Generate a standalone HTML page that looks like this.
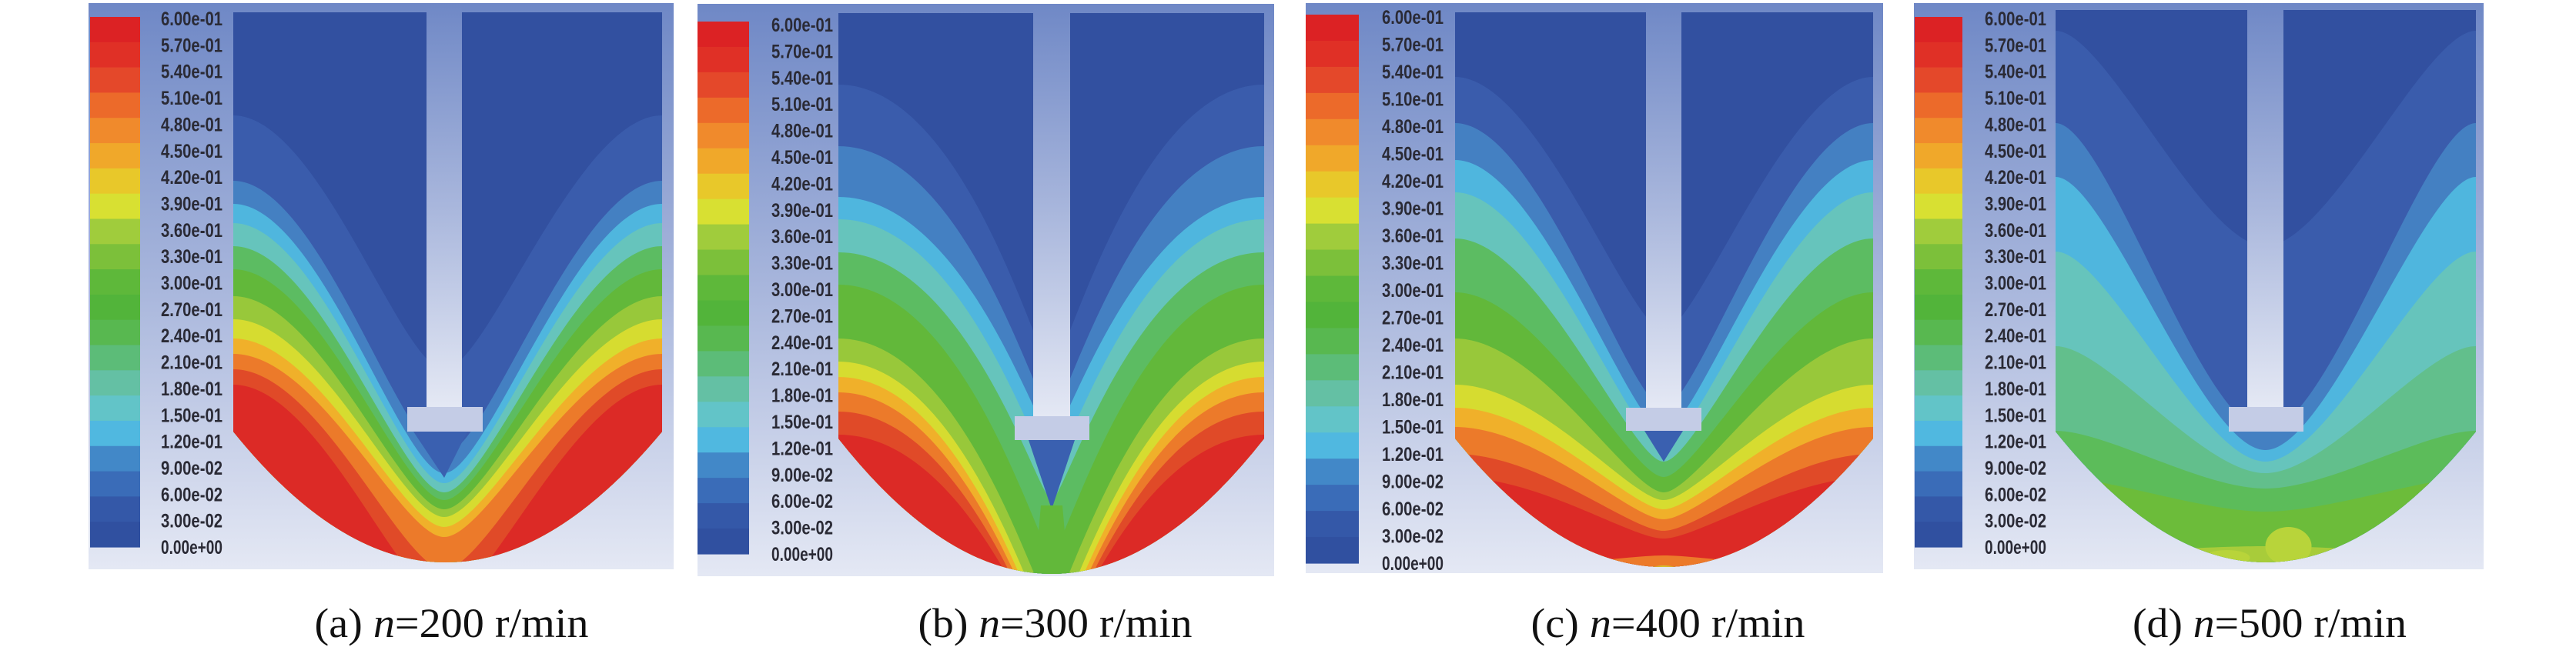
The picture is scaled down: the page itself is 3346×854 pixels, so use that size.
<!DOCTYPE html>
<html><head><meta charset="utf-8"><style>
html,body{margin:0;padding:0;background:#fff;width:3346px;height:854px;overflow:hidden;}
svg{display:block}
</style></head><body>
<svg id="s" width="3346" height="854" xmlns="http://www.w3.org/2000/svg">
<defs>
<linearGradient id="bg" x1="0" y1="0" x2="0" y2="1">
<stop offset="0" stop-color="#6f88c6"/><stop offset="0.5" stop-color="#a8b6dc"/><stop offset="1" stop-color="#e4e8f4"/>
</linearGradient>
</defs>
</svg>
<script>
var NS="http://www.w3.org/2000/svg",S=document.getElementById('s');
function el(t,a,p){var e=document.createElementNS(NS,t);for(var k in a)e.setAttribute(k,a[k]);(p||S).appendChild(e);return e;}
var cb=['#dc2224','#e03026','#e4482a','#ec6a2a','#f08a2c','#f0a82a','#e8c82a','#d8e032','#a0cc3c','#7cc03a','#5eb83a','#52b43a','#58b850','#5cbc78','#64c0a4','#62c4c8','#50b8e0','#4288c8','#3a6cb8','#3458a8','#3050a0'];
var labs=['6.00e-01','5.70e-01','5.40e-01','5.10e-01','4.80e-01','4.50e-01','4.20e-01','3.90e-01','3.60e-01','3.30e-01','3.00e-01','2.70e-01','2.40e-01','2.10e-01','1.80e-01','1.50e-01','1.20e-01','9.00e-02','6.00e-02','3.00e-02','0.00e+00'];
var P=[
{L:115,R:875,bt:4,bb:740,c0:117,c1:182,ct:22,cbm:711,lx:209,lt:24,lb:711,x0:303,x1:860,top:16,s0:554,s1:600,i0:529,i1:627,iy0:529,iy1:561,w:561,b:731,k:0.2,m:0.1,cap:'(a) ',num:'=200 r/min',
 bands:[['#3a5cac',150,480],['#4480c2',235,590],['#4fb6de',265,615],['#66c4bc',290,628],['#5cbc62',320,640],['#62b83a',350,650],['#98c83a',385,662],['#d6dc30',415,672],['#f0b02a',440,685],['#ec7a2a',460,698],['#e04a28',480,740],['#dc2a26',500,780]]},
{L:906,R:1655,bt:5,bb:749,c0:906,c1:973,ct:28,cbm:720,lx:1002,lt:32,lb:720,x0:1089,x1:1642,top:17,s0:1342,s1:1390,i0:1318,i1:1415,iy0:541,iy1:572,w:570,b:746,k:0.3,m:0.03,cap:'(b) ',num:'=300 r/min',
 bands:[['#3a5cac',110,480],['#4480c2',190,540],['#4fb6de',256,570],['#66c4bc',285,610],['#5cbc62',328,650],['#62b83a',370,720],['#98c83a',440,790],['#d6dc30',470,820],['#f0b02a',490,835],['#ec7a2a',510,845],['#e04a28',535,850],['#dc2a26',565,850]]},
{L:1696,R:2446,bt:4,bb:745,c0:1696,c1:1765,ct:19,cbm:732,lx:1795,lt:22,lb:732,x0:1890,x1:2433,top:16,s0:2138,s1:2184,i0:2112,i1:2210,iy0:530,iy1:560,w:570,b:737,k:0.2,m:0.08,cap:'(c) ',num:'=400 r/min',
 bands:[['#3a5cac',100,430],['#4480c2',160,530],['#4fb6de',208,560],['#66c4bc',250,580],['#5cbc62',310,600],['#62b83a',380,620],['#98c83a',440,640],['#d6dc30',500,650],['#f0b02a',530,662],['#ec7a2a',555,675],['#e04a28',590,690],['#dc2a26',620,700],['#ec7a2a',740,722],['#d6c030',800,735]]},
{L:2486,R:3226,bt:4,bb:740,c0:2487,c1:2549,ct:22,cbm:711,lx:2578,lt:24,lb:711,x0:2670,x1:3216,top:13,s0:2919,s1:2966,i0:2895,i1:2992,iy0:529,iy1:561,w:561,b:731,k:0.12,m:0.15,cap:'(d) ',num:'=500 r/min',
 bands:[['#3a5cac',40,320],['#4480c2',160,560],['#4fb6de',230,585],['#66c4bc',327,600],['#62bf8c',450,615],['#5cbc5a',560,635],['#6cbc3a',620,665],['#a8cc3a',720,710]]}
];
P.forEach(function(p,i){
 el('rect',{x:p.L,y:p.bt,width:p.R-p.L,height:p.bb-p.bt,fill:'url(#bg)'});
 var h=(p.cbm-p.ct)/21;
 cb.forEach(function(c,j){el('rect',{x:p.c0,y:p.ct+j*h,width:p.c1-p.c0,height:h+0.6,fill:c});});
 labs.forEach(function(t,j){var e=el('text',{x:p.lx,y:p.lt+j*(p.lb-p.lt)/20+9,'font-family':'Liberation Sans Narrow, Liberation Sans, sans-serif','font-size':25,'font-weight':'bold',fill:'#2a2a35',textLength:80,lengthAdjust:'spacingAndGlyphs'});e.textContent=t;});
 var xc=(p.s0+p.s1)/2,W=p.x1-p.x0;
 var clipD='M'+p.x0+','+p.top+'H'+p.x1+'V'+p.w+'Q'+xc+','+(2*p.b-p.w)+' '+p.x0+','+p.w+'Z';
 var cp=el('clipPath',{id:'cp'+i},S.querySelector('defs'));el('path',{d:clipD},cp);
 var g=el('g',{'clip-path':'url(#cp'+i+')'});
 el('rect',{x:p.x0,y:p.top,width:W,height:p.b-p.top+5,fill:'#3250a0'},g);
 p.bands.forEach(function(b){
  var w=b[1],c=Math.min(b[2],850);
  var d='M'+p.x0+','+w+'C'+(p.x0+p.k*W)+','+w+' '+(xc-p.m*W)+','+c+' '+xc+','+c+'C'+(xc+p.m*W)+','+c+' '+(p.x1-p.k*W)+','+w+' '+p.x1+','+w+'L'+p.x1+',850L'+p.x0+',850Z';
  el('path',{d:d,fill:b[0]},g);
 });
 if(i==1){el('path',{d:'M'+(xc-30)+','+p.iy1+'L'+(xc+30)+','+p.iy1+'L'+xc+','+(p.iy1+90)+'Z',fill:'#3a60b0'},g);
  el('path',{d:'M'+(xc-14)+','+(p.iy1+85)+'L'+(xc+14)+','+(p.iy1+85)+'L'+(xc+22)+',750L'+(xc-22)+',750Z',fill:'#62b83a'},g);}
 if(i==0){el('path',{d:'M'+(xc-40)+','+p.iy1+'L'+(xc+30)+','+p.iy1+'L'+xc+','+(p.iy1+60)+'Z',fill:'#3a60b0'},g);}
 if(i==2){el('path',{d:'M'+(xc-25)+','+p.iy1+'L'+(xc+25)+','+p.iy1+'L'+xc+','+(p.iy1+40)+'Z',fill:'#3a60b0'},g);}
 if(i==3){el('ellipse',{cx:xc+30,cy:710,rx:30,ry:25,fill:'#b8d43a'},g);el('ellipse',{cx:xc-50,cy:725,rx:30,ry:10,fill:'#b8d43a'},g);}
 el('rect',{x:p.s0,y:p.bt,width:p.s1-p.s0,height:p.iy0-p.bt,fill:'url(#bg)'});
 el('rect',{x:p.i0,y:p.iy0,width:p.i1-p.i0,height:p.iy1-p.iy0,fill:'#c4cce6'});
 var cx=(p.x0+p.x1)/2+5;
 var t=el('text',{x:cx-178,y:828,'font-family':'Liberation Serif, serif','font-size':54,fill:'#111',textLength:356,lengthAdjust:'spacingAndGlyphs'});
 t.appendChild(document.createTextNode(p.cap));
 var ts=el('tspan',{'font-style':'italic'},t);ts.textContent='n';
 t.appendChild(document.createTextNode(p.num));
});
</script>
</body></html>
